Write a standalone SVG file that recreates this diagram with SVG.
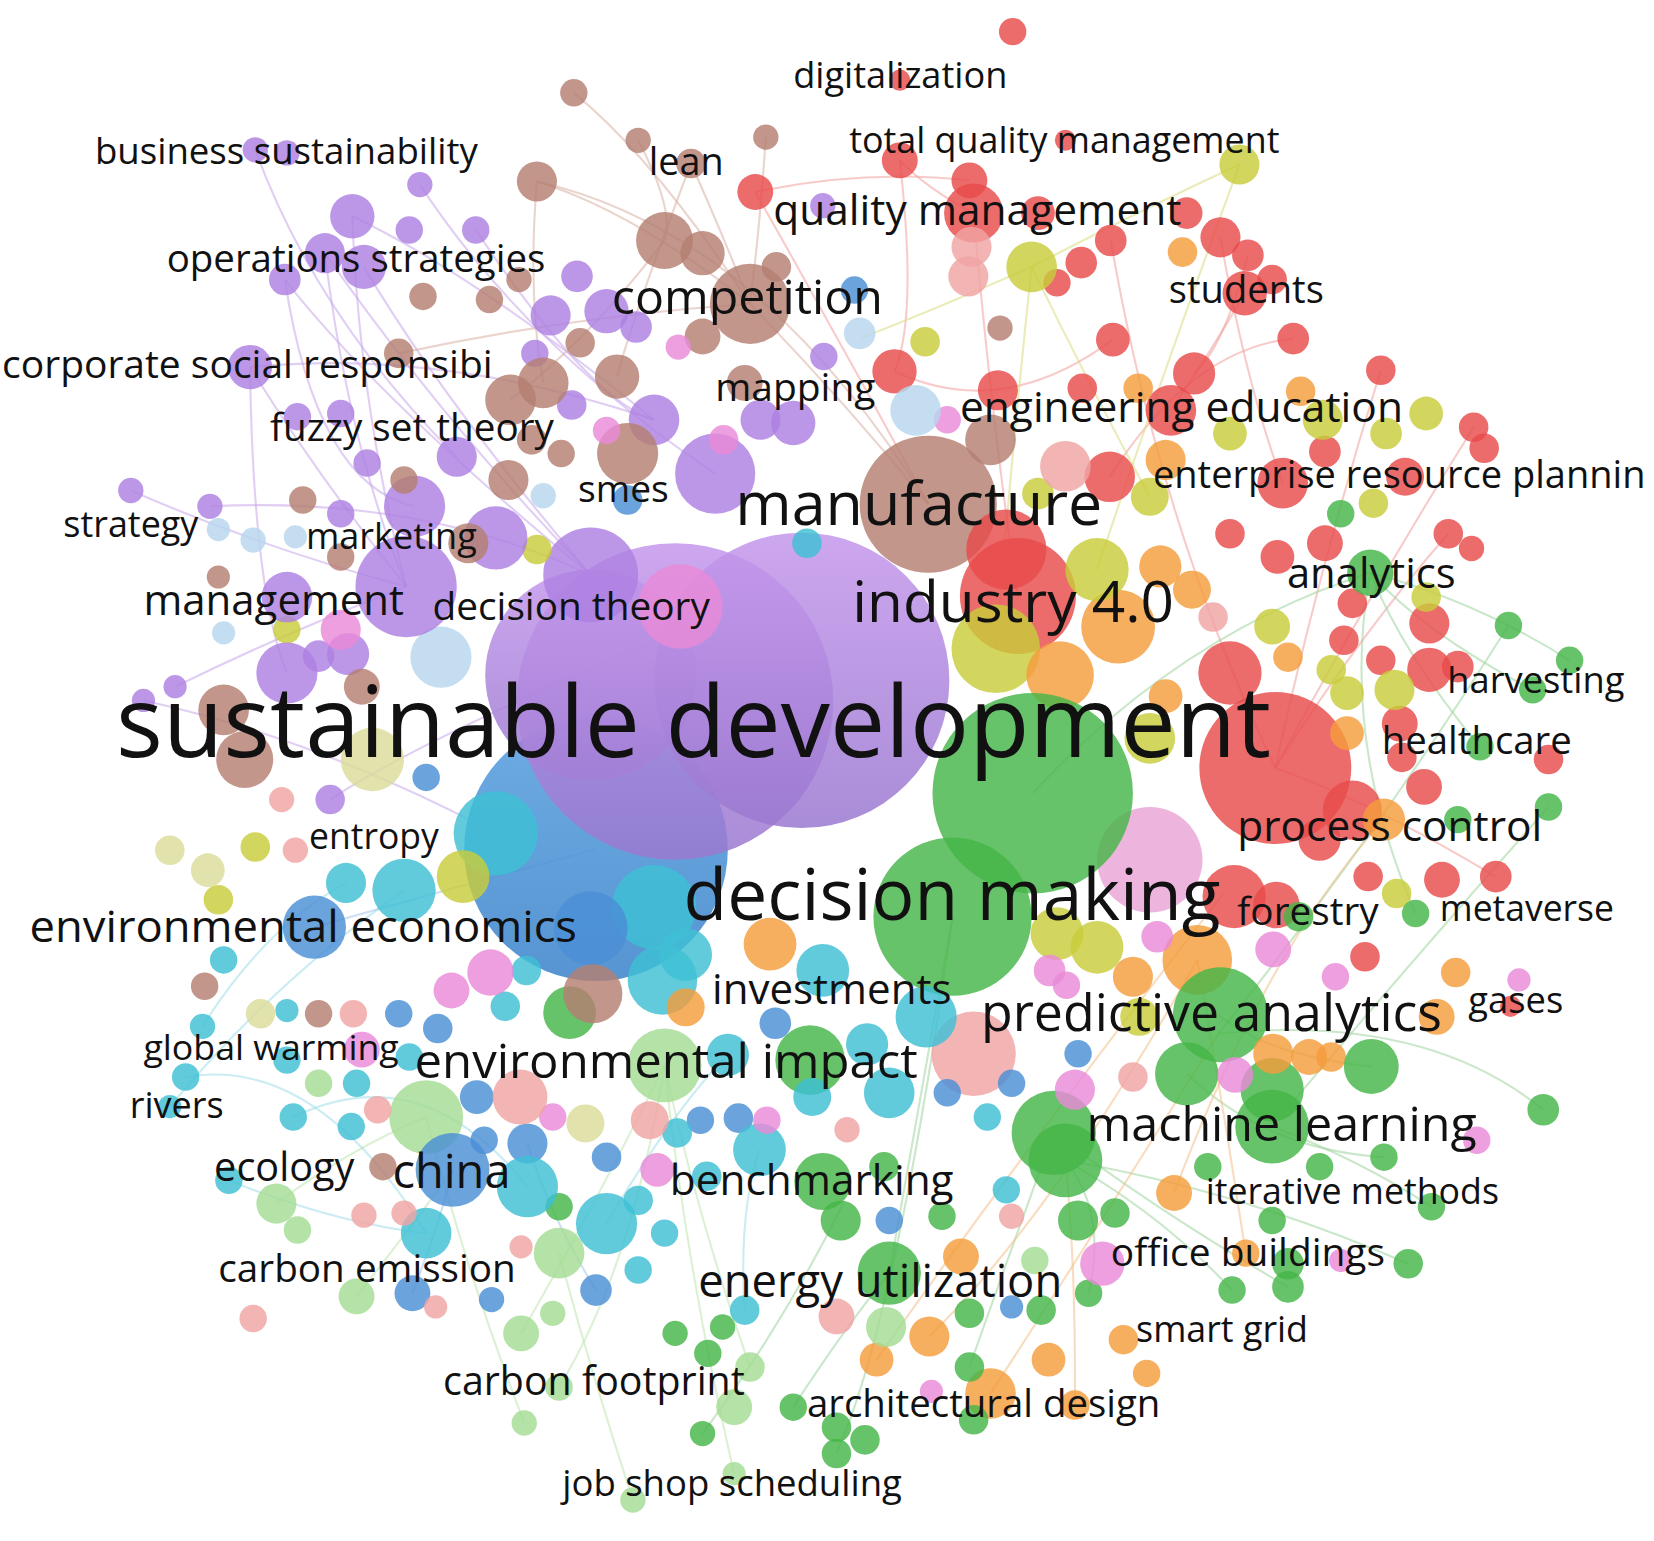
<svg xmlns="http://www.w3.org/2000/svg" width="1654" height="1541" viewBox="0 0 1654 1541">
<defs>
<linearGradient id="gp" x1="0" y1="0" x2="0" y2="1"><stop offset="0" stop-color="#c497ec"/><stop offset="1" stop-color="#9a78d0"/></linearGradient>
<linearGradient id="gb" x1="0" y1="0" x2="0" y2="1"><stop offset="0" stop-color="#5aa0e0"/><stop offset="1" stop-color="#3f86cc"/></linearGradient>
</defs>
<style>
.r{fill:#e84c4c;fill-opacity:.82}.y{fill:#c8cc3a;fill-opacity:.82}.ly{fill:#dcdc9a;fill-opacity:.82}
.o{fill:#f49c3c;fill-opacity:.82}.g{fill:#45b648;fill-opacity:.82}.lg{fill:#a3dc94;fill-opacity:.82}
.b{fill:#4a8fd6;fill-opacity:.82}.c{fill:#3ec0d4;fill-opacity:.82}.p{fill:#ad80e2;fill-opacity:.82}
.br{fill:#b57f72;fill-opacity:.82}.pk{fill:#e98ad8;fill-opacity:.82}.s{fill:#f0a3a3;fill-opacity:.82}
.lb{fill:#b7d6ee;fill-opacity:.82}.lpk{fill:#e9a2d6;fill-opacity:.8}
.bp{fill:url(#gp);fill-opacity:.85}.bb{fill:url(#gb);fill-opacity:.88}
.e{fill:none;stroke-width:2;stroke-opacity:.55}
.ep{stroke:#c9a8ea}.ebr{stroke:#d8b0a6}.er{stroke:#f2a0a0}.ey{stroke:#dada80}.eg{stroke:#9ed49e}
.elg{stroke:#c0e6b0}.ec{stroke:#9edde8}.eo{stroke:#f4c08a}.eb{stroke:#a6c6ea}
text{font-family:"Open Sans","Noto Sans","DejaVu Sans",sans-serif;fill:#111}
</style>
<rect width="1654" height="1541" fill="#fff"/>
<g transform="scale(1.05485)">
<g id="connectors" class="e">
<path class="ep" d="M385,556 Q300,450 237,348"/>
<path class="ep" d="M385,556 Q340,380 334,205"/>
<path class="ep" d="M385,556 Q250,520 124,465"/>
<path class="ep" d="M385,556 Q270,600 166,651"/>
<path class="ep" d="M560,545 Q420,400 308,240"/>
<path class="ep" d="M560,545 Q420,380 345,253"/>
<path class="ep" d="M560,545 Q360,380 270,265"/>
<path class="ep" d="M620,398 Q450,260 334,205"/>
<path class="ep" d="M620,398 Q420,330 237,348"/>
<path class="ep" d="M640,600 Q400,700 313,758"/>
<path class="ep" d="M678,449 Q500,330 398,175"/>
<path class="ep" d="M237,348 Q240,560 272,638"/>
<path class="ep" d="M308,240 Q330,420 385,556"/>
<path class="ep" d="M270,265 Q300,460 393,480"/>
<path class="ep" d="M242,142 Q300,300 433,433"/>
<path class="ep" d="M136,664 Q300,700 470,790"/>
<path class="ep" d="M199,480 Q400,470 560,545"/>
<path class="ep" d="M451,218 Q560,380 620,398"/>
<path class="ebr" d="M711,288 Q600,200 509,172"/>
<path class="ebr" d="M711,288 Q680,210 655,155"/>
<path class="ebr" d="M711,288 Q620,150 544,88"/>
<path class="ebr" d="M711,288 Q540,300 378,335"/>
<path class="ebr" d="M711,288 Q800,380 880,478"/>
<path class="ebr" d="M509,172 Q720,220 880,478"/>
<path class="ebr" d="M655,155 Q600,300 585,357"/>
<path class="ebr" d="M726,130 Q720,220 711,288"/>
<path class="ebr" d="M509,172 Q500,280 515,363"/>
<path class="ebr" d="M630,228 Q560,320 484,379"/>
<path class="ebr" d="M605,133 Q640,200 630,228"/>
<path class="er" d="M923,202 Q880,180 853,152"/>
<path class="er" d="M716,182 Q800,330 880,478"/>
<path class="er" d="M923,202 Q940,400 965,565"/>
<path class="er" d="M1180,278 Q1150,330 1110,389"/>
<path class="er" d="M1157,225 Q1180,360 1216,458"/>
<path class="er" d="M1053,228 Q1100,500 1209,728"/>
<path class="er" d="M1309,351 Q1250,540 1209,728"/>
<path class="er" d="M1397,405 Q1300,560 1209,728"/>
<path class="er" d="M848,352 Q950,400 1055,322"/>
<path class="er" d="M716,182 Q820,160 919,171"/>
<path class="er" d="M1226,321 Q1130,330 1052,452"/>
<path class="er" d="M1183,242 Q1160,330 1132,354"/>
<path class="er" d="M1373,506 Q1290,600 1209,728"/>
<path class="er" d="M1418,831 Q1300,760 1209,728"/>
<path class="er" d="M853,152 Q870,300 848,352"/>
<path class="ey" d="M1175,156 Q1080,200 978,253"/>
<path class="ey" d="M978,253 Q1030,360 1090,471"/>
<path class="ey" d="M1175,156 Q1100,360 1040,540"/>
<path class="ey" d="M978,253 Q870,300 817,320"/>
<path class="ey" d="M978,253 Q960,420 944,615"/>
<path class="eg" d="M1299,543 Q1120,600 979,752"/>
<path class="eg" d="M1430,593 Q1300,800 1155,980"/>
<path class="eg" d="M1463,1052 Q1350,960 1155,980"/>
<path class="eg" d="M1468,765 Q1330,920 1206,1068"/>
<path class="eg" d="M1357,1144 Q1290,1100 1206,1068"/>
<path class="eg" d="M1335,1198 Q1180,1130 1010,1100"/>
<path class="eg" d="M1221,1220 Q1100,1150 999,1074"/>
<path class="eg" d="M752,1334 Q800,1260 843,1207"/>
<path class="eg" d="M666,1359 Q740,1260 800,1140"/>
<path class="eg" d="M1488,626 Q1400,570 1299,543"/>
<path class="eg" d="M1342,866 Q1270,700 1299,543"/>
<path class="eg" d="M1168,1223 Q1100,1150 1010,1100"/>
<path class="eg" d="M919,1296 Q960,1180 999,1074"/>
<path class="eg" d="M1403,708 Q1330,620 1299,543"/>
<path class="eg" d="M1453,654 Q1350,600 1299,543"/>
<path class="eg" d="M1300,1011 Q1200,1000 1155,962"/>
<path class="eg" d="M1312,1097 Q1200,1090 1125,1018"/>
<path class="eg" d="M1032,1226 Q1050,1150 1010,1100"/>
<path class="eg" d="M903,869 Q880,1000 843,1207"/>
<path class="eg" d="M793,1378 Q850,1250 903,869"/>
<path class="elg" d="M600,1422 Q560,1300 530,1188"/>
<path class="elg" d="M696,1397 Q650,1200 630,1010"/>
<path class="elg" d="M497,1349 Q440,1200 404,1059"/>
<path class="elg" d="M262,1141 Q330,1090 404,1059"/>
<path class="elg" d="M338,1229 Q400,1150 429,1109"/>
<path class="elg" d="M530,1315 Q600,1200 630,1010"/>
<path class="elg" d="M494,1264 Q560,1150 630,1010"/>
<path class="elg" d="M711,1296 Q660,1150 630,1010"/>
<path class="ec" d="M161,1049 Q260,930 383,844"/>
<path class="ec" d="M217,1119 Q320,1160 404,1169"/>
<path class="ec" d="M192,973 Q250,880 328,837"/>
<path class="ec" d="M278,1059 Q400,1000 500,1125"/>
<path class="ec" d="M176,1021 Q300,1000 404,1169"/>
<path class="ec" d="M575,1160 Q640,1050 690,1000"/>
<path class="ec" d="M706,1242 Q700,1150 720,1090"/>
<path class="eb" d="M391,1226 Q420,1150 429,1109"/>
<path class="eb" d="M565,1223 Q520,1150 500,1084"/>
<path class="eb" d="M298,879 Q400,850 565,805"/>
<path class="eo" d="M939,1321 Q1050,1150 1155,980"/>
<path class="eo" d="M1019,1332 Q1020,1200 1010,1100"/>
<path class="eo" d="M831,1289 Q1000,1050 1160,847"/>
<path class="eo" d="M1312,777 Q1200,900 1113,1131"/>
<path class="eo" d="M881,1267 Q1000,1150 1135,910"/>
<path class="eo" d="M1181,1188 Q1160,1050 1135,910"/>
</g>
<g id="bubbles">
<circle class="bb" cx="565" cy="805" r="125"/>
<circle class="c" cx="470" cy="790" r="40"/>
<circle class="lb" cx="418" cy="623" r="29"/>
<circle class="bp" cx="560" cy="640" r="100"/>
<circle class="bp" cx="640" cy="665" r="150"/>
<circle class="bp" cx="760" cy="645" r="140"/>
<circle class="p" cx="560" cy="545" r="45"/>
<circle class="pk" cx="645" cy="575" r="40"/>
<circle class="br" cx="880" cy="478" r="65"/>
<circle class="r" cx="965" cy="565" r="55"/>
<circle class="r" cx="954" cy="521" r="38"/>
<circle class="y" cx="944" cy="615" r="42"/>
<circle class="o" cx="1060" cy="594" r="35"/>
<circle class="o" cx="1005" cy="640" r="32"/>
<circle class="y" cx="1040" cy="540" r="30"/>
<circle class="y" cx="1090" cy="700" r="24"/>
<circle class="lpk" cx="1090" cy="815" r="50"/>
<circle class="g" cx="979" cy="752" r="95"/>
<circle class="g" cx="903" cy="869" r="75"/>
<circle class="c" cx="620" cy="860" r="40"/>
<circle class="b" cx="560" cy="880" r="35"/>
<circle class="c" cx="650" cy="905" r="25"/>
<circle class="r" cx="1209" cy="728" r="72"/>
<circle class="r" cx="1166" cy="638" r="30"/>
<circle class="r" cx="1170" cy="850" r="30"/>
<circle class="r" cx="1282" cy="768" r="28"/>
<circle class="y" cx="1002" cy="885" r="25"/>
<circle class="y" cx="1040" cy="898" r="25"/>
<circle class="o" cx="1135" cy="910" r="33"/>
<circle class="g" cx="1157" cy="962" r="45"/>
<circle class="s" cx="923" cy="999" r="40"/>
<circle class="g" cx="999" cy="1074" r="40"/>
<circle class="g" cx="1010" cy="1100" r="35"/>
<circle class="g" cx="1206" cy="1068" r="35"/>
<circle class="g" cx="1206" cy="1033" r="30"/>
<circle class="g" cx="1125" cy="1018" r="30"/>
<circle class="c" cx="628" cy="929" r="33"/>
<circle class="lg" cx="630" cy="1010" r="35"/>
<circle class="g" cx="768" cy="1005" r="33"/>
<circle class="lg" cx="404" cy="1059" r="35"/>
<circle class="b" cx="429" cy="1109" r="35"/>
<circle class="p" cx="678" cy="449" r="38"/>
<circle class="br" cx="711" cy="288" r="38"/>
<circle class="p" cx="385" cy="556" r="48"/>
<!-- red -->
<circle class="r" cx="960" cy="30" r="13"/><circle class="r" cx="853" cy="76" r="10"/>
<circle class="r" cx="853" cy="152" r="17"/><circle class="r" cx="1010" cy="133" r="10"/>
<circle class="r" cx="716" cy="182" r="17"/><circle class="r" cx="919" cy="171" r="17"/>
<circle class="r" cx="923" cy="202" r="28"/><circle class="r" cx="984" cy="202" r="16"/>
<circle class="r" cx="1125" cy="202" r="15"/><circle class="r" cx="1053" cy="228" r="15"/>
<circle class="r" cx="1157" cy="225" r="19"/><circle class="r" cx="1183" cy="242" r="15"/>
<circle class="r" cx="1002" cy="268" r="13"/><circle class="r" cx="1025" cy="249" r="15"/>
<circle class="r" cx="1180" cy="278" r="21"/><circle class="r" cx="1206" cy="265" r="14"/>
<circle class="r" cx="1055" cy="322" r="16"/><circle class="r" cx="1226" cy="321" r="15"/>
<circle class="r" cx="1309" cy="351" r="14"/><circle class="r" cx="848" cy="352" r="21"/>
<circle class="r" cx="1132" cy="354" r="20"/><circle class="r" cx="1026" cy="368" r="14"/>
<circle class="r" cx="946" cy="370" r="19"/><circle class="r" cx="1110" cy="389" r="24"/>
<circle class="r" cx="1397" cy="405" r="14"/><circle class="r" cx="1407" cy="425" r="14"/>
<circle class="r" cx="1256" cy="428" r="15"/><circle class="r" cx="1216" cy="458" r="24"/>
<circle class="r" cx="1332" cy="452" r="18"/><circle class="r" cx="1052" cy="452" r="24"/>
<circle class="r" cx="1373" cy="506" r="14"/><circle class="r" cx="1395" cy="520" r="12"/>
<circle class="r" cx="1256" cy="515" r="17"/><circle class="r" cx="1211" cy="528" r="16"/>
<circle class="r" cx="1166" cy="506" r="14"/><circle class="r" cx="1282" cy="572" r="14"/>
<circle class="r" cx="1355" cy="591" r="19"/><circle class="r" cx="1274" cy="607" r="14"/>
<circle class="r" cx="1309" cy="626" r="14"/><circle class="r" cx="1355" cy="635" r="21"/>
<circle class="r" cx="1382" cy="632" r="15"/><circle class="r" cx="1327" cy="686" r="17"/>
<circle class="r" cx="1329" cy="718" r="14"/><circle class="r" cx="1468" cy="720" r="14"/>
<circle class="r" cx="1350" cy="746" r="17"/><circle class="r" cx="1367" cy="834" r="17"/>
<circle class="r" cx="1418" cy="831" r="15"/><circle class="r" cx="1297" cy="831" r="14"/>
<circle class="r" cx="1294" cy="907" r="14"/><circle class="r" cx="1251" cy="796" r="20"/>
<circle class="r" cx="1432" cy="954" r="10"/><circle class="r" cx="1210" cy="858" r="22"/>
<!-- yellow -->
<circle class="y" cx="1175" cy="156" r="19"/><circle class="y" cx="978" cy="253" r="24"/>
<circle class="y" cx="877" cy="324" r="14"/><circle class="y" cx="1166" cy="411" r="16"/>
<circle class="y" cx="1254" cy="398" r="19"/><circle class="y" cx="1314" cy="411" r="15"/>
<circle class="y" cx="1352" cy="392" r="16"/><circle class="y" cx="1090" cy="471" r="18"/>
<circle class="y" cx="984" cy="468" r="15"/><circle class="y" cx="1302" cy="477" r="14"/>
<circle class="y" cx="1352" cy="566" r="14"/><circle class="y" cx="1206" cy="594" r="17"/>
<circle class="y" cx="1262" cy="635" r="14"/><circle class="y" cx="1322" cy="654" r="19"/>
<circle class="y" cx="1277" cy="657" r="16"/><circle class="y" cx="1324" cy="847" r="14"/>
<circle class="y" cx="509" cy="521" r="14"/><circle class="y" cx="272" cy="597" r="13"/>
<circle class="y" cx="242" cy="803" r="14"/><circle class="y" cx="207" cy="853" r="14"/>
<circle class="y" cx="439" cy="831" r="25"/><circle class="y" cx="1080" cy="964" r="18"/>
<circle class="ly" cx="161" cy="806" r="14"/><circle class="ly" cx="197" cy="825" r="16"/>
<circle class="ly" cx="353" cy="720" r="30"/><circle class="ly" cx="247" cy="961" r="14"/>
<circle class="ly" cx="555" cy="1065" r="18"/>
<!-- orange -->
<circle class="o" cx="1121" cy="239" r="14"/><circle class="o" cx="1079" cy="368" r="14"/>
<circle class="o" cx="1233" cy="371" r="14"/><circle class="o" cx="1105" cy="436" r="19"/>
<circle class="o" cx="1221" cy="623" r="14"/><circle class="o" cx="1277" cy="695" r="16"/>
<circle class="o" cx="1312" cy="777" r="20"/><circle class="o" cx="1380" cy="922" r="14"/>
<circle class="o" cx="1130" cy="559" r="18"/><circle class="o" cx="1100" cy="537" r="20"/>
<circle class="o" cx="730" cy="895" r="25"/><circle class="o" cx="1241" cy="1002" r="17"/>
<circle class="o" cx="1262" cy="1002" r="14"/><circle class="o" cx="1362" cy="964" r="17"/>
<circle class="o" cx="1113" cy="1131" r="17"/><circle class="o" cx="1181" cy="1188" r="13"/>
<circle class="o" cx="1065" cy="1270" r="14"/><circle class="o" cx="994" cy="1289" r="16"/>
<circle class="o" cx="831" cy="1289" r="16"/><circle class="o" cx="939" cy="1321" r="24"/>
<circle class="o" cx="1019" cy="1332" r="14"/><circle class="o" cx="1087" cy="1302" r="13"/>
<circle class="o" cx="881" cy="1267" r="19"/><circle class="o" cx="911" cy="1191" r="17"/>
<circle class="o" cx="650" cy="955" r="18"/><circle class="o" cx="1074" cy="926" r="19"/>
<circle class="o" cx="1207" cy="999" r="19"/><circle class="o" cx="1105" cy="660" r="16"/>
<!-- green -->
<circle class="g" cx="1271" cy="487" r="13"/><circle class="g" cx="1299" cy="543" r="22"/>
<circle class="g" cx="1430" cy="593" r="13"/><circle class="g" cx="1488" cy="626" r="13"/>
<circle class="g" cx="1453" cy="654" r="13"/><circle class="g" cx="1403" cy="708" r="13"/>
<circle class="g" cx="1468" cy="765" r="13"/><circle class="g" cx="1382" cy="777" r="13"/>
<circle class="g" cx="1342" cy="866" r="13"/><circle class="g" cx="1231" cy="869" r="14"/>
<circle class="g" cx="1300" cy="1011" r="26"/><circle class="g" cx="1463" cy="1052" r="15"/>
<circle class="g" cx="1145" cy="1106" r="13"/><circle class="g" cx="1251" cy="1106" r="13"/>
<circle class="g" cx="1312" cy="1097" r="13"/><circle class="g" cx="1357" cy="1144" r="13"/>
<circle class="g" cx="1206" cy="1157" r="13"/><circle class="g" cx="1057" cy="1150" r="14"/>
<circle class="g" cx="1022" cy="1157" r="19"/><circle class="g" cx="1221" cy="1198" r="15"/>
<circle class="g" cx="1335" cy="1198" r="14"/><circle class="g" cx="1168" cy="1223" r="13"/>
<circle class="g" cx="1221" cy="1220" r="15"/><circle class="g" cx="1032" cy="1226" r="13"/>
<circle class="g" cx="987" cy="1242" r="14"/><circle class="g" cx="919" cy="1245" r="14"/>
<circle class="g" cx="843" cy="1207" r="30"/><circle class="g" cx="838" cy="1106" r="14"/>
<circle class="g" cx="893" cy="1153" r="13"/><circle class="g" cx="797" cy="1157" r="19"/>
<circle class="g" cx="919" cy="1296" r="14"/><circle class="g" cx="923" cy="1346" r="14"/>
<circle class="g" cx="793" cy="1353" r="14"/><circle class="g" cx="820" cy="1365" r="14"/>
<circle class="g" cx="793" cy="1378" r="14"/><circle class="g" cx="640" cy="1264" r="12"/>
<circle class="g" cx="685" cy="1258" r="12"/><circle class="g" cx="671" cy="1283" r="13"/>
<circle class="g" cx="752" cy="1334" r="13"/><circle class="g" cx="666" cy="1359" r="12"/>
<circle class="g" cx="530" cy="1144" r="13"/><circle class="g" cx="780" cy="1120" r="27"/>
<circle class="g" cx="540" cy="960" r="25"/>
<!-- light green -->
<circle class="lg" cx="262" cy="1141" r="19"/><circle class="lg" cx="282" cy="1166" r="13"/>
<circle class="lg" cx="302" cy="1027" r="13"/><circle class="lg" cx="338" cy="1229" r="17"/>
<circle class="lg" cx="494" cy="1264" r="17"/><circle class="lg" cx="524" cy="1245" r="12"/>
<circle class="lg" cx="530" cy="1188" r="24"/><circle class="lg" cx="711" cy="1296" r="14"/>
<circle class="lg" cx="696" cy="1334" r="17"/><circle class="lg" cx="530" cy="1315" r="13"/>
<circle class="lg" cx="497" cy="1349" r="12"/><circle class="lg" cx="600" cy="1422" r="12"/>
<circle class="lg" cx="696" cy="1397" r="11"/><circle class="lg" cx="840" cy="1258" r="19"/>
<circle class="lg" cx="981" cy="1195" r="13"/>
<!-- blue -->
<circle class="b" cx="810" cy="275" r="13"/><circle class="b" cx="459" cy="1081" r="13"/>
<circle class="b" cx="500" cy="1084" r="19"/><circle class="b" cx="575" cy="1097" r="14"/>
<circle class="b" cx="565" cy="1223" r="15"/><circle class="b" cx="391" cy="1226" r="17"/>
<circle class="b" cx="466" cy="1232" r="12"/><circle class="b" cx="378" cy="961" r="13"/>
<circle class="b" cx="1022" cy="999" r="13"/><circle class="b" cx="898" cy="1036" r="13"/>
<circle class="b" cx="959" cy="1027" r="13"/><circle class="b" cx="843" cy="1157" r="13"/>
<circle class="b" cx="959" cy="1239" r="11"/><circle class="b" cx="298" cy="879" r="30"/>
<circle class="b" cx="404" cy="737" r="13"/><circle class="b" cx="595" cy="474" r="14"/>
<circle class="b" cx="415" cy="975" r="14"/><circle class="b" cx="735" cy="970" r="15"/>
<circle class="b" cx="700" cy="1060" r="14"/><circle class="b" cx="452" cy="1040" r="16"/>
<circle class="b" cx="664" cy="1062" r="13"/>
<!-- cyan -->
<circle class="c" cx="192" cy="973" r="12"/><circle class="c" cx="176" cy="1021" r="13"/>
<circle class="c" cx="161" cy="1049" r="11"/><circle class="c" cx="272" cy="958" r="11"/>
<circle class="c" cx="272" cy="1005" r="13"/><circle class="c" cx="338" cy="1027" r="13"/>
<circle class="c" cx="388" cy="1002" r="13"/><circle class="c" cx="278" cy="1059" r="13"/>
<circle class="c" cx="333" cy="1068" r="13"/><circle class="c" cx="217" cy="1119" r="13"/>
<circle class="c" cx="404" cy="1169" r="24"/><circle class="c" cx="500" cy="1125" r="29"/>
<circle class="c" cx="605" cy="1138" r="14"/><circle class="c" cx="575" cy="1160" r="29"/>
<circle class="c" cx="630" cy="1169" r="13"/><circle class="c" cx="605" cy="1204" r="13"/>
<circle class="c" cx="706" cy="1242" r="14"/><circle class="c" cx="954" cy="1128" r="13"/>
<circle class="c" cx="843" cy="1036" r="24"/><circle class="c" cx="878" cy="964" r="29"/>
<circle class="c" cx="936" cy="1059" r="13"/><circle class="c" cx="383" cy="844" r="30"/>
<circle class="c" cx="328" cy="837" r="19"/><circle class="c" cx="212" cy="910" r="13"/>
<circle class="c" cx="780" cy="920" r="25"/><circle class="c" cx="822" cy="990" r="20"/>
<circle class="c" cx="770" cy="1040" r="18"/><circle class="c" cx="690" cy="1000" r="20"/>
<circle class="c" cx="720" cy="1090" r="25"/><circle class="c" cx="670" cy="1115" r="14"/>
<circle class="c" cx="765" cy="515" r="14"/><circle class="c" cx="479" cy="954" r="14"/>
<circle class="c" cx="499" cy="920" r="14"/><circle class="c" cx="642" cy="1074" r="14"/>
<!-- purple -->
<circle class="p" cx="398" cy="175" r="12"/><circle class="p" cx="242" cy="142" r="12"/>
<circle class="p" cx="272" cy="145" r="12"/><circle class="p" cx="334" cy="205" r="21"/>
<circle class="p" cx="388" cy="218" r="13"/><circle class="p" cx="451" cy="218" r="13"/>
<circle class="p" cx="308" cy="240" r="19"/><circle class="p" cx="345" cy="253" r="21"/>
<circle class="p" cx="270" cy="265" r="15"/><circle class="p" cx="547" cy="262" r="15"/>
<circle class="p" cx="522" cy="299" r="19"/><circle class="p" cx="575" cy="295" r="21"/>
<circle class="p" cx="507" cy="335" r="13"/><circle class="p" cx="237" cy="348" r="21"/>
<circle class="p" cx="542" cy="384" r="14"/><circle class="p" cx="620" cy="398" r="24"/>
<circle class="p" cx="721" cy="398" r="19"/><circle class="p" cx="752" cy="401" r="21"/>
<circle class="p" cx="433" cy="433" r="19"/><circle class="p" cx="348" cy="439" r="13"/>
<circle class="p" cx="393" cy="480" r="29"/><circle class="p" cx="323" cy="392" r="13"/>
<circle class="p" cx="282" cy="395" r="13"/><circle class="p" cx="124" cy="465" r="12"/>
<circle class="p" cx="199" cy="480" r="12"/><circle class="p" cx="781" cy="338" r="13"/>
<circle class="p" cx="323" cy="487" r="13"/><circle class="p" cx="272" cy="566" r="24"/>
<circle class="p" cx="272" cy="638" r="29"/><circle class="p" cx="302" cy="622" r="15"/>
<circle class="p" cx="166" cy="651" r="11"/><circle class="p" cx="136" cy="664" r="11"/>
<circle class="p" cx="313" cy="758" r="14"/><circle class="p" cx="780" cy="195" r="12"/>
<circle class="p" cx="603" cy="310" r="15"/><circle class="p" cx="470" cy="510" r="30"/>
<circle class="p" cx="330" cy="620" r="20"/>
<!-- brown -->
<circle class="br" cx="544" cy="88" r="13"/><circle class="br" cx="605" cy="133" r="12"/>
<circle class="br" cx="726" cy="130" r="12"/><circle class="br" cx="655" cy="155" r="14"/>
<circle class="br" cx="509" cy="172" r="19"/><circle class="br" cx="401" cy="281" r="13"/>
<circle class="br" cx="464" cy="284" r="13"/><circle class="br" cx="492" cy="265" r="12"/>
<circle class="br" cx="550" cy="325" r="14"/><circle class="br" cx="378" cy="335" r="14"/>
<circle class="br" cx="585" cy="357" r="21"/><circle class="br" cx="515" cy="363" r="24"/>
<circle class="br" cx="484" cy="379" r="24"/><circle class="br" cx="630" cy="228" r="27"/>
<circle class="br" cx="666" cy="240" r="21"/><circle class="br" cx="736" cy="253" r="14"/>
<circle class="br" cx="666" cy="319" r="17"/><circle class="br" cx="706" cy="363" r="17"/>
<circle class="br" cx="595" cy="430" r="29"/><circle class="br" cx="504" cy="417" r="14"/>
<circle class="br" cx="532" cy="430" r="13"/><circle class="br" cx="482" cy="455" r="19"/>
<circle class="br" cx="383" cy="455" r="13"/><circle class="br" cx="287" cy="474" r="13"/>
<circle class="br" cx="948" cy="311" r="12"/><circle class="br" cx="939" cy="417" r="24"/>
<circle class="br" cx="323" cy="528" r="13"/><circle class="br" cx="444" cy="515" r="19"/>
<circle class="br" cx="207" cy="547" r="11"/><circle class="br" cx="212" cy="673" r="24"/>
<circle class="br" cx="232" cy="720" r="27"/><circle class="br" cx="343" cy="651" r="17"/>
<circle class="br" cx="194" cy="935" r="13"/><circle class="br" cx="302" cy="961" r="13"/>
<circle class="br" cx="363" cy="1106" r="13"/><circle class="br" cx="562" cy="942" r="28"/>
<!-- pink -->
<circle class="pk" cx="643" cy="329" r="12"/><circle class="pk" cx="686" cy="417" r="14"/>
<circle class="pk" cx="575" cy="408" r="13"/><circle class="pk" cx="898" cy="398" r="13"/>
<circle class="pk" cx="323" cy="597" r="19"/><circle class="pk" cx="1266" cy="926" r="13"/>
<circle class="pk" cx="1440" cy="929" r="11"/><circle class="pk" cx="1171" cy="1019" r="17"/>
<circle class="pk" cx="1400" cy="1081" r="13"/><circle class="pk" cx="1019" cy="1033" r="19"/>
<circle class="pk" cx="1045" cy="1198" r="21"/><circle class="pk" cx="1271" cy="1195" r="11"/>
<circle class="pk" cx="883" cy="1319" r="11"/><circle class="pk" cx="343" cy="995" r="17"/>
<circle class="pk" cx="524" cy="1059" r="13"/><circle class="pk" cx="623" cy="1109" r="16"/>
<circle class="pk" cx="465" cy="922" r="22"/><circle class="pk" cx="428" cy="939" r="17"/>
<circle class="pk" cx="995" cy="920" r="15"/><circle class="pk" cx="1011" cy="934" r="13"/>
<circle class="pk" cx="1097" cy="888" r="15"/><circle class="pk" cx="1207" cy="900" r="17"/>
<circle class="pk" cx="727" cy="1062" r="13"/>
<!-- salmon -->
<circle class="s" cx="921" cy="234" r="19"/><circle class="s" cx="918" cy="262" r="19"/>
<circle class="s" cx="1010" cy="442" r="24"/><circle class="s" cx="803" cy="1071" r="12"/>
<circle class="s" cx="959" cy="1153" r="12"/><circle class="s" cx="793" cy="1248" r="17"/>
<circle class="s" cx="335" cy="961" r="13"/><circle class="s" cx="358" cy="1052" r="13"/>
<circle class="s" cx="345" cy="1152" r="12"/><circle class="s" cx="383" cy="1150" r="12"/>
<circle class="s" cx="413" cy="1239" r="11"/><circle class="s" cx="240" cy="1250" r="13"/>
<circle class="s" cx="494" cy="1182" r="11"/><circle class="s" cx="493" cy="1040" r="26"/>
<circle class="s" cx="267" cy="758" r="12"/><circle class="s" cx="280" cy="806" r="12"/>
<circle class="s" cx="1150" cy="585" r="14"/><circle class="s" cx="616" cy="1062" r="18"/>
<circle class="s" cx="1074" cy="1021" r="14"/>
<!-- light blue -->
<circle class="lb" cx="815" cy="316" r="15"/><circle class="lb" cx="868" cy="389" r="24"/>
<circle class="lb" cx="207" cy="502" r="11"/><circle class="lb" cx="240" cy="512" r="12"/>
<circle class="lb" cx="280" cy="509" r="11"/><circle class="lb" cx="212" cy="600" r="11"/>
<circle class="lb" cx="515" cy="470" r="12"/>
</g>
<g id="labels">
<g id="node-digitalization"><text x="752" y="83" font-size="34" textLength="203" lengthAdjust="spacingAndGlyphs">digitalization</text></g>
<g id="node-total-quality-management"><text x="805" y="145" font-size="34" textLength="408" lengthAdjust="spacingAndGlyphs">total quality management</text></g>
<g id="node-business-sustainability"><text x="90" y="155" font-size="34.5" textLength="363" lengthAdjust="spacingAndGlyphs">business sustainability</text></g>
<g id="node-lean"><text x="615" y="166" font-size="36" textLength="71" lengthAdjust="spacingAndGlyphs">lean</text></g>
<g id="node-quality-management"><text x="733" y="213" font-size="40" textLength="387" lengthAdjust="spacingAndGlyphs">quality management</text></g>
<g id="node-operations-strategies"><text x="158" y="258" font-size="36.5" textLength="359" lengthAdjust="spacingAndGlyphs">operations strategies</text></g>
<g id="node-competition"><text x="580" y="298" font-size="45.5" textLength="257" lengthAdjust="spacingAndGlyphs">competition</text></g>
<g id="node-students"><text x="1108" y="287" font-size="36" textLength="147" lengthAdjust="spacingAndGlyphs">students</text></g>
<g id="node-corporate-social-responsibi"><text x="2" y="358" font-size="37" textLength="465" lengthAdjust="spacingAndGlyphs">corporate social responsibi</text></g>
<g id="node-mapping"><text x="678" y="380" font-size="36.7" textLength="152" lengthAdjust="spacingAndGlyphs">mapping</text></g>
<g id="node-engineering-education"><text x="910" y="400" font-size="40" textLength="420" lengthAdjust="spacingAndGlyphs">engineering education</text></g>
<g id="node-fuzzy-set-theory"><text x="256" y="418" font-size="36.7" textLength="269" lengthAdjust="spacingAndGlyphs">fuzzy set theory</text></g>
<g id="node-enterprise-resource-plannin"><text x="1093" y="463" font-size="36.5" textLength="467" lengthAdjust="spacingAndGlyphs">enterprise resource plannin</text></g>
<g id="node-smes"><text x="548" y="476" font-size="35" textLength="86" lengthAdjust="spacingAndGlyphs">smes</text></g>
<g id="node-manufacture"><text x="697" y="498" font-size="58" textLength="348" lengthAdjust="spacingAndGlyphs">manufacture</text></g>
<g id="node-strategy"><text x="60" y="509" font-size="34" textLength="128" lengthAdjust="spacingAndGlyphs">strategy</text></g>
<g id="node-marketing"><text x="290" y="520" font-size="34" textLength="162" lengthAdjust="spacingAndGlyphs">marketing</text></g>
<g id="node-analytics"><text x="1220" y="557" font-size="39.5" textLength="160" lengthAdjust="spacingAndGlyphs">analytics</text></g>
<g id="node-management"><text x="136" y="583" font-size="40" textLength="247" lengthAdjust="spacingAndGlyphs">management</text></g>
<g id="node-decision-theory"><text x="410" y="588" font-size="36.8" textLength="263" lengthAdjust="spacingAndGlyphs">decision theory</text></g>
<g id="node-industry-4-0"><text x="808" y="590" font-size="54" textLength="305" lengthAdjust="spacingAndGlyphs">industry 4.0</text></g>
<g id="node-harvesting"><text x="1372" y="657" font-size="34" textLength="168" lengthAdjust="spacingAndGlyphs">harvesting</text></g>
<g id="node-sustainable-development"><text x="110" y="718" font-size="93" textLength="1095" lengthAdjust="spacingAndGlyphs">sustainable development</text></g>
<g id="node-healthcare"><text x="1310" y="715" font-size="36" textLength="180" lengthAdjust="spacingAndGlyphs">healthcare</text></g>
<g id="node-entropy"><text x="293" y="805" font-size="34" textLength="123" lengthAdjust="spacingAndGlyphs">entropy</text></g>
<g id="node-process-control"><text x="1173" y="797" font-size="40" textLength="289" lengthAdjust="spacingAndGlyphs">process control</text></g>
<g id="node-decision-making"><text x="648" y="872" font-size="67" textLength="509" lengthAdjust="spacingAndGlyphs">decision making</text></g>
<g id="node-forestry"><text x="1173" y="877" font-size="37" textLength="134" lengthAdjust="spacingAndGlyphs">forestry</text></g>
<g id="node-metaverse"><text x="1365" y="873" font-size="34" textLength="165" lengthAdjust="spacingAndGlyphs">metaverse</text></g>
<g id="node-environmental-economics"><text x="28" y="893" font-size="41.5" textLength="519" lengthAdjust="spacingAndGlyphs">environmental economics</text></g>
<g id="node-investments"><text x="675" y="952" font-size="40" textLength="227" lengthAdjust="spacingAndGlyphs">investments</text></g>
<g id="node-gases"><text x="1392" y="960" font-size="34" textLength="90" lengthAdjust="spacingAndGlyphs">gases</text></g>
<g id="node-predictive-analytics"><text x="930" y="977" font-size="49" textLength="437" lengthAdjust="spacingAndGlyphs">predictive analytics</text></g>
<g id="node-global-warming"><text x="136" y="1005" font-size="33.6" textLength="242" lengthAdjust="spacingAndGlyphs">global warming</text></g>
<g id="node-environmental-impact"><text x="393" y="1022" font-size="44.7" textLength="477" lengthAdjust="spacingAndGlyphs">environmental impact</text></g>
<g id="node-rivers"><text x="123" y="1060" font-size="34" textLength="89" lengthAdjust="spacingAndGlyphs">rivers</text></g>
<g id="node-machine-learning"><text x="1030" y="1082" font-size="45.7" textLength="370" lengthAdjust="spacingAndGlyphs">machine learning</text></g>
<g id="node-ecology"><text x="203" y="1120" font-size="37.4" textLength="133" lengthAdjust="spacingAndGlyphs">ecology</text></g>
<g id="node-china"><text x="372" y="1126" font-size="44.5" textLength="112" lengthAdjust="spacingAndGlyphs">china</text></g>
<g id="node-benchmarking"><text x="635" y="1133" font-size="40" textLength="269" lengthAdjust="spacingAndGlyphs">benchmarking</text></g>
<g id="node-iterative-methods"><text x="1143" y="1141" font-size="34" textLength="278" lengthAdjust="spacingAndGlyphs">iterative methods</text></g>
<g id="node-office-buildings"><text x="1053" y="1200" font-size="36.6" textLength="260" lengthAdjust="spacingAndGlyphs">office buildings</text></g>
<g id="node-carbon-emission"><text x="207" y="1215" font-size="36.6" textLength="282" lengthAdjust="spacingAndGlyphs">carbon emission</text></g>
<g id="node-energy-utilization"><text x="662" y="1230" font-size="43" textLength="345" lengthAdjust="spacingAndGlyphs">energy utilization</text></g>
<g id="node-smart-grid"><text x="1077" y="1272" font-size="34" textLength="163" lengthAdjust="spacingAndGlyphs">smart grid</text></g>
<g id="node-carbon-footprint"><text x="420" y="1322" font-size="37.3" textLength="286" lengthAdjust="spacingAndGlyphs">carbon footprint</text></g>
<g id="node-architectural-design"><text x="765" y="1343" font-size="36.4" textLength="335" lengthAdjust="spacingAndGlyphs">architectural design</text></g>
<g id="node-job-shop-scheduling"><text x="533" y="1418" font-size="34.5" textLength="322" lengthAdjust="spacingAndGlyphs">job shop scheduling</text></g>
</g>
</g>
</svg>
